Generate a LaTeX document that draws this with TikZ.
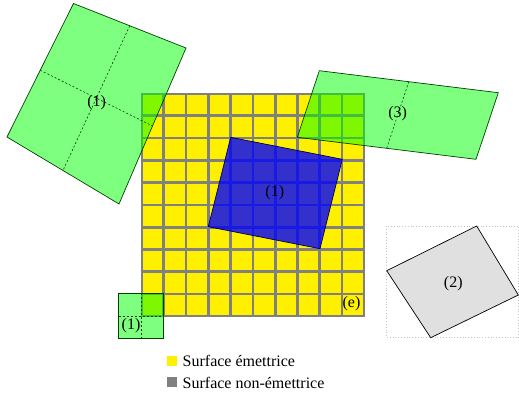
\documentclass[tikz,border=0pt]{standalone}
\usepackage{fontspec}
\setmainfont{Liberation Serif}
\usetikzlibrary{calc}
\definecolor{cellyellow}{RGB}{255,240,0}
\begin{document}
\begin{tikzpicture}[x=1pt,y=-1pt,
  lbl/.style={inner sep=0pt,font=\fontsize{16}{19}\selectfont},
  greenshape/.style={fill=green,fill opacity=0.5,draw=green!25!black,line width=0.7pt},
  blueshape/.style={fill=blue,fill opacity=0.8,draw=blue!30!black,line width=0.7pt},
  grayshape/.style={fill=black!12,draw=black,line width=0.7pt},
  midline/.style={dashed,dash pattern=on 2pt off 2pt,draw=green!25!black,line width=0.6pt},
  cell/.style={fill=cellyellow},
  legendbox/.style={minimum size=10pt,inner sep=0pt}
]
\useasboundingbox (0,0) rectangle (519,394);
% grid
\fill[gray] (141,93) rectangle (364.7,316.7);
\foreach \i in {0,...,9}{
  \foreach \j in {0,...,9}{
    \fill[cell] ({142.7+22.3*\i},{94.7+22.3*\j}) rectangle ++(19.6,19.6);
  }
}
\node[lbl] (e) at (351.5,304) {(e)};
% big green quad (1)
\coordinate (ga) at (73.5,3.5);
\coordinate (gb) at (186,48);
\coordinate (gc) at (119,204);
\coordinate (gd) at (7,137);
\draw[greenshape] (ga) -- (gb) -- (gc) -- (gd) -- cycle;
\draw[midline] ($(ga)!0.5!(gd)$) -- ($(gb)!0.5!(gc)$);
\draw[midline] ($(ga)!0.5!(gb)$) -- ($(gd)!0.5!(gc)$);
\node[lbl] (l1a) at (96.7,103) {(1)};
% green quad (3)
\coordinate (ha) at (319.3,70.7);
\coordinate (hb) at (498.3,92.7);
\coordinate (hc) at (476,159.3);
\coordinate (hd) at (297.3,137.3);
\draw[greenshape] (ha) -- (hb) -- (hc) -- (hd) -- cycle;
\draw[midline] ($(ha)!0.5!(hb)$) -- ($(hd)!0.5!(hc)$);
\node[lbl] (l3) at (397.7,113.5) {(3)};
% blue quad (1)
\draw[blueshape] (230.7,137.3) -- (342.3,159.3) -- (320,248.7) -- (208.3,226.7) -- cycle;
\node[lbl] (l1b) at (274.8,192.8) {(1)};
% small green square (1)
\draw[greenshape] (118.7,293.3) rectangle (163.3,338);
\draw[midline] (141,293.3) -- (141,338);
\draw[midline] (118.7,316) -- (163.3,316);
\node[lbl] (l1c) at (131,326) {(1)};
% gray quad (2)
\draw[gray!45,dotted,line width=0.8pt] (386.7,226) rectangle (518.3,337.7);
\draw[grayshape] (476.7,226) -- (518.3,295) -- (430.7,337.7) -- (386.7,270.7) -- cycle;
\node[lbl] (l2) at (453.3,283.3) {(2)};
% legend
\node[legendbox,fill=cellyellow] (ly) at (171.7,360.5) {};
\node[legendbox,fill=gray] (lg) at (171.7,381.7) {};
\node[lbl,anchor=base west] (ty) at (182.5,366) {Surface émettrice};
\node[lbl,anchor=base west] (tg) at (182.5,388) {Surface non-émettrice};
\end{tikzpicture}
\end{document}
